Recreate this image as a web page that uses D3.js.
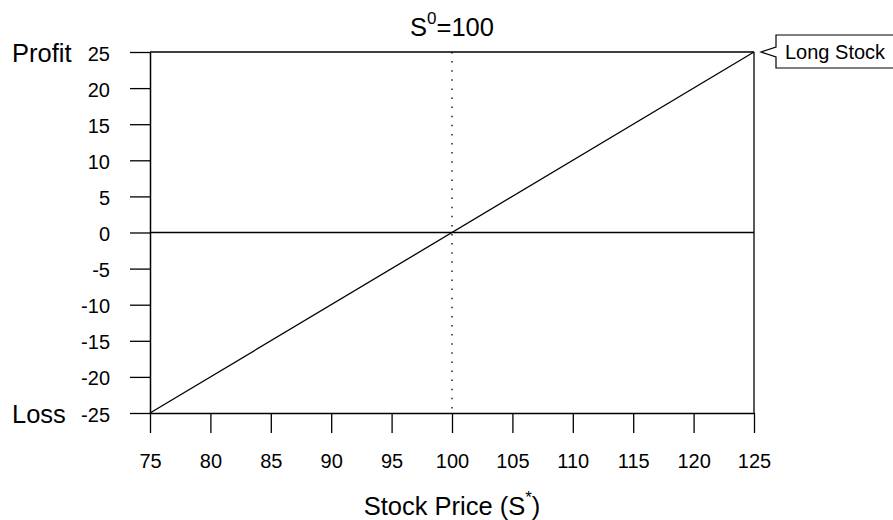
<!DOCTYPE html>
<html><head><meta charset="utf-8">
<script src="https://cdn.jsdelivr.net/npm/d3@7"></script>
<style>body{margin:0;background:#fff}svg{display:block;font-family:"Liberation Sans",Arial,sans-serif}</style>
</head><body><svg id="c" width="893" height="520"></svg>
<script>
const xTicks = [75,80,85,90,95,100,105,110,115,120,125];
const yTicks = [25,20,15,10,5,0,-5,-10,-15,-20,-25];
const stockPrices = [75, 125];
const longStockProfit = [-25, 25];
const strike = 100;
const seriesLabel = "Long Stock";

const svg = d3.select("#c");
const x = d3.scaleLinear().domain([75,125]).range([150,754]);
const y = d3.scaleLinear().domain([-25,25]).range([413,52]);
const tickFont = 20, labFont = 25.5;
const fmt = d => String(d);

// y axis
const ya = d3.axisLeft(y).tickValues(yTicks).tickFormat(fmt).tickSize(20).tickPadding(20).tickSizeOuter(0);
const gy = svg.append("g").attr("transform","translate(150,0)").call(ya);
gy.select(".domain").attr("stroke","#000").attr("stroke-width",1.5);
gy.selectAll(".tick line").attr("stroke","#000").attr("stroke-width",1.3);
gy.selectAll(".tick text").attr("font-size",tickFont).attr("font-family","Liberation Sans, Arial, sans-serif").attr("fill","#000").attr("dy","0.4em");

// x axis
const xa = d3.axisBottom(x).tickValues(xTicks).tickFormat(fmt).tickSize(20).tickPadding(22).tickSizeOuter(0);
const gx = svg.append("g").attr("transform","translate(0,413)").call(xa);
gx.select(".domain").attr("stroke","#000").attr("stroke-width",1.3);
gx.selectAll(".tick line").attr("stroke","#000").attr("stroke-width",1.3);
gx.selectAll(".tick text").attr("font-size",tickFont).attr("font-family","Liberation Sans, Arial, sans-serif").attr("fill","#000").attr("y",55).attr("dy",0);

// box top and right
svg.append("line").attr("x1",x(75)).attr("x2",x(125)).attr("y1",y(25)).attr("y2",y(25)).attr("stroke","#000").attr("stroke-width",1.3);
svg.append("line").attr("x1",x(125)).attr("x2",x(125)).attr("y1",y(25)).attr("y2",y(-25)).attr("stroke","#000").attr("stroke-width",1.3);
// zero line
svg.append("line").attr("x1",x(75)).attr("x2",x(125)).attr("y1",y(0)).attr("y2",y(0)).attr("stroke","#000").attr("stroke-width",1.3);
// dotted strike
svg.append("line").attr("x1",x(strike)).attr("x2",x(strike)).attr("y1",y(25)).attr("y2",y(-25))
  .attr("stroke","#000").attr("stroke-width",1.3).attr("stroke-dasharray","1.5,7.6");
// payoff line
const line = d3.line().x((d,i)=>x(stockPrices[i])).y(d=>y(d));
svg.append("path").attr("d",line(longStockProfit)).attr("fill","none").attr("stroke","#000").attr("stroke-width",1.3);

// labels
svg.append("text").attr("x",12).attr("y",y(25)+10).attr("font-size",labFont).text("Profit");
svg.append("text").attr("x",12).attr("y",y(-25)+10).attr("font-size",labFont).text("Loss");

const t = svg.append("text").attr("x",452).attr("y",36).attr("text-anchor","middle").attr("font-size",labFont);
t.append("tspan").text("S");
t.append("tspan").attr("font-size",17).attr("dy",-12).text("0");
t.append("tspan").attr("dy",12).text("=100");

const xl = svg.append("text").attr("x",452).attr("y",515).attr("text-anchor","middle").attr("font-size",labFont);
xl.append("tspan").text("Stock Price (S");
xl.append("tspan").attr("font-size",17).attr("dy",-12).text("*");
xl.append("tspan").attr("dy",12).text(")");

// callout
const px = x(125), py = y(25);
const tip = px+7, bx = px+22;
svg.append("path").attr("d",`M${tip},${py} L${bx},${py-5} L${bx},${py-17} L${bx+140},${py-17} L${bx+140},${py+16} L${bx},${py+16} L${bx},${py+5} Z`)
  .attr("fill","#fff").attr("stroke","#000").attr("stroke-width",1.2);
svg.append("text").attr("x",bx+9).attr("y",py+7).attr("font-size",20).text(seriesLabel);
</script></body></html>
